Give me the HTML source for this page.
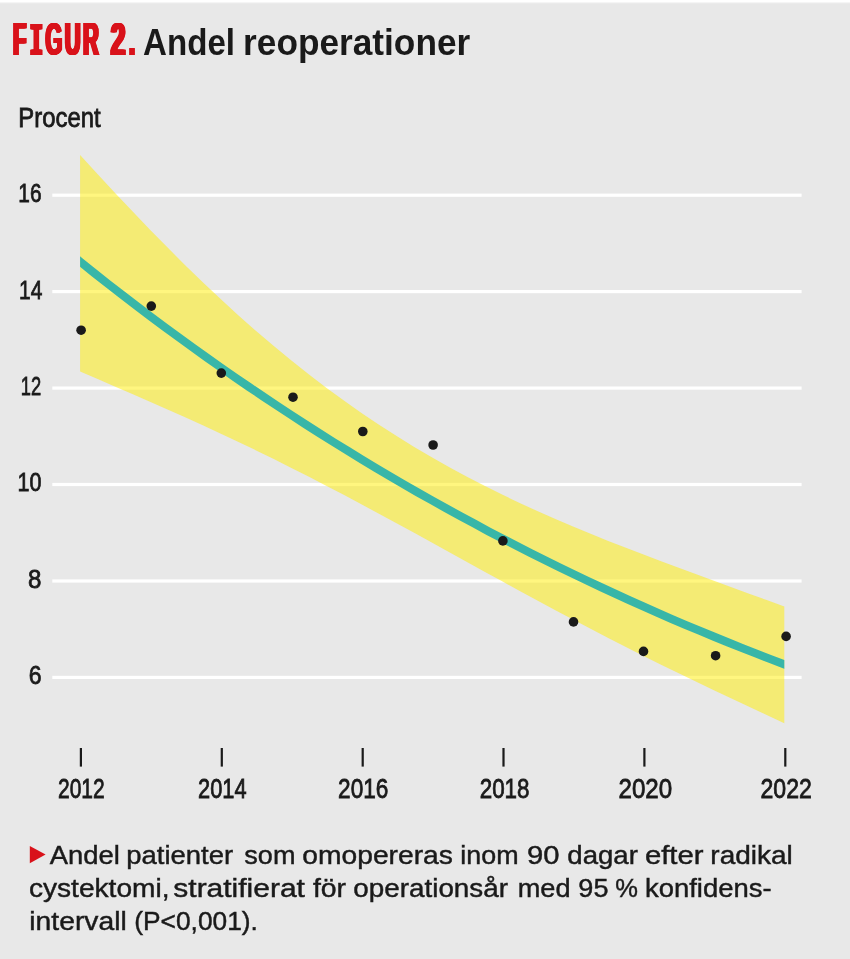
<!DOCTYPE html>
<html lang="sv"><head><meta charset="utf-8"><title>Figur 2. Andel reoperationer</title>
<style>
html,body{margin:0;padding:0;background:#e8e8e8;}
body{width:850px;height:959px;overflow:hidden;position:relative;}
svg{display:block;}
text{font-family:"Liberation Sans",sans-serif;fill:#1a1a1a;stroke:#1a1a1a;stroke-width:0.45px;}
text.ttl{font-weight:bold;stroke:none;}
text.ax{stroke-width:0.8px;}
.fig{position:absolute;left:13.2px;top:15.9px;font-family:"Liberation Sans",sans-serif;font-weight:bold;font-size:46.5px;line-height:1;color:#d9121a;white-space:nowrap;transform-origin:0 0;transform:scaleX(0.47);text-shadow:1px 0 0 #d9121a,-1px 0 0 #d9121a,2px 0 0 #d9121a,-2px 0 0 #d9121a,2.6px 0 0 #d9121a,-2.6px 0 0 #d9121a;letter-spacing:7.4px;word-spacing:-2px;}
.fig .i{font-family:"Liberation Mono",monospace;letter-spacing:5.2px;}
.fig .t{letter-spacing:5.2px;}
.fig .w{letter-spacing:12.5px;}
.fig .n{display:inline-block;transform:scaleX(1.2);transform-origin:0 0;margin-left:-5.5px;margin-right:5.5px;}
</style></head><body>
<svg width="850" height="959" viewBox="0 0 850 959">
<defs><clipPath id="cp"><rect x="80.1" y="140" width="704.2" height="600"/></clipPath></defs>
<rect width="850" height="959" fill="#e8e8e8"/>
<rect width="850" height="2" fill="#fff"/><rect y="2" width="850" height="1" fill="#f5f5f5"/><rect y="3" width="850" height="1" fill="#ebebeb"/>
<text class="ttl" y="55" font-size="36"><tspan x="143.10" textLength="91.90" lengthAdjust="spacingAndGlyphs">Andel</tspan> <tspan x="243.10" textLength="227.14" lengthAdjust="spacingAndGlyphs">reoperationer</tspan></text>
<text class="ax" y="127.1" font-size="27.5"><tspan x="18.30" textLength="82.32" lengthAdjust="spacingAndGlyphs">Procent</tspan></text>
<g><rect x="52.3" y="193.6" width="749.3" height="3.2" fill="#fff"/><rect x="52.3" y="290.0" width="749.3" height="3.2" fill="#fff"/><rect x="52.3" y="386.5" width="749.3" height="3.2" fill="#fff"/><rect x="52.3" y="482.9" width="749.3" height="3.2" fill="#fff"/><rect x="52.3" y="579.4" width="749.3" height="3.2" fill="#fff"/><rect x="52.3" y="675.8" width="749.3" height="3.2" fill="#fff"/></g>
<polygon points="80.1,155.0 97.7,174.2 115.3,193.2 132.9,211.8 150.5,230.2 168.1,248.1 185.7,265.7 203.3,282.7 220.9,299.3 238.5,315.4 256.1,331.0 273.8,346.0 291.4,360.5 309.0,374.5 326.6,387.9 344.2,400.8 361.8,413.2 379.4,425.0 397.0,436.3 414.6,447.2 432.2,457.6 449.8,467.5 467.4,477.0 485.0,486.1 502.6,494.8 520.2,503.2 537.8,511.3 555.4,519.0 573.0,526.6 590.6,533.8 608.2,540.9 625.9,547.8 643.5,554.6 661.1,561.2 678.7,567.8 696.3,574.3 713.9,580.8 731.5,587.2 749.1,593.7 766.7,600.1 784.3,606.6 784.3,723.2 766.7,715.0 749.1,706.8 731.5,698.5 713.9,690.2 696.3,681.8 678.7,673.3 661.1,664.7 643.5,655.9 625.9,647.0 608.2,638.0 590.6,628.8 573.0,619.6 555.4,610.2 537.8,600.7 520.2,591.2 502.6,581.6 485.0,571.9 467.4,562.2 449.8,552.5 432.2,542.8 414.6,533.1 397.0,523.5 379.4,514.0 361.8,504.5 344.2,495.1 326.6,485.9 309.0,476.8 291.4,467.9 273.8,459.1 256.1,450.4 238.5,442.0 220.9,433.7 203.3,425.5 185.7,417.5 168.1,409.7 150.5,401.9 132.9,394.3 115.3,386.7 97.7,379.1 80.1,371.5" fill="#ffee00" fill-opacity="0.5"/>
<polyline points="66.0,250.4 80.1,261.7 94.2,273.0 108.3,284.1 122.4,295.0 136.4,305.8 150.5,316.5 164.6,327.0 178.7,337.3 192.8,347.5 206.9,357.6 220.9,367.5 235.0,377.3 249.1,387.0 263.2,396.5 277.3,405.9 291.4,415.1 305.4,424.3 319.5,433.2 333.6,442.1 347.7,450.8 361.8,459.4 375.9,467.9 389.9,476.2 404.0,484.5 418.1,492.6 432.2,500.5 446.3,508.4 460.4,516.1 474.5,523.7 488.5,531.3 502.6,538.6 516.7,545.9 530.8,553.1 544.9,560.1 559.0,567.1 573.0,573.9 587.1,580.6 601.2,587.3 615.3,593.8 629.4,600.2 643.5,606.5 657.5,612.7 671.6,618.9 685.7,624.9 699.8,630.8 713.9,636.6 728.0,642.4 742.0,648.0 756.1,653.5 770.2,659.0 784.3,664.4 798.4,669.7" fill="none" stroke="#38b6a8" stroke-width="8.2" clip-path="url(#cp)"/>
<g fill="#1a1a1a"><circle cx="81.1" cy="330.2" r="4.8"/><circle cx="151.3" cy="306.1" r="4.8"/><circle cx="221.3" cy="373.1" r="4.8"/><circle cx="293.0" cy="397.2" r="4.8"/><circle cx="362.8" cy="431.5" r="4.8"/><circle cx="433.1" cy="445.0" r="4.8"/><circle cx="502.9" cy="540.9" r="4.8"/><circle cx="573.5" cy="621.9" r="4.8"/><circle cx="643.5" cy="651.4" r="4.8"/><circle cx="715.6" cy="655.7" r="4.8"/><circle cx="786.1" cy="636.4" r="4.8"/></g>
<text class="ax" y="202.1" font-size="26.5"><tspan x="18.30" textLength="23.18" lengthAdjust="spacingAndGlyphs">16</tspan></text><text class="ax" y="298.5" font-size="26.5"><tspan x="19.00" textLength="23.28" lengthAdjust="spacingAndGlyphs">14</tspan></text><text class="ax" y="395.0" font-size="26.5"><tspan x="20.70" textLength="20.38" lengthAdjust="spacingAndGlyphs">12</tspan></text><text class="ax" y="491.4" font-size="26.5"><tspan x="17.50" textLength="23.98" lengthAdjust="spacingAndGlyphs">10</tspan></text><text class="ax" y="587.9" font-size="26.5"><tspan x="28.10" textLength="13.39" lengthAdjust="spacingAndGlyphs">8</tspan></text><text class="ax" y="684.3" font-size="26.5"><tspan x="28.70" textLength="12.79" lengthAdjust="spacingAndGlyphs">6</tspan></text>
<rect x="79.8" y="748" width="2.2" height="18.6" fill="#1a1a1a"/><rect x="220.7" y="748" width="2.2" height="18.6" fill="#1a1a1a"/><rect x="361.6" y="748" width="2.2" height="18.6" fill="#1a1a1a"/><rect x="502.4" y="748" width="2.2" height="18.6" fill="#1a1a1a"/><rect x="643.3" y="748" width="2.2" height="18.6" fill="#1a1a1a"/><rect x="784.2" y="748" width="2.2" height="18.6" fill="#1a1a1a"/>
<text class="ax" y="798.3" font-size="27.5"><tspan x="58.00" textLength="46.74" lengthAdjust="spacingAndGlyphs">2012</tspan></text><text class="ax" y="798.3" font-size="27.5"><tspan x="198.10" textLength="48.54" lengthAdjust="spacingAndGlyphs">2014</tspan></text><text class="ax" y="798.3" font-size="27.5"><tspan x="338.10" textLength="50.24" lengthAdjust="spacingAndGlyphs">2016</tspan></text><text class="ax" y="798.3" font-size="27.5"><tspan x="479.70" textLength="49.84" lengthAdjust="spacingAndGlyphs">2018</tspan></text><text class="ax" y="798.3" font-size="27.5"><tspan x="618.50" textLength="53.65" lengthAdjust="spacingAndGlyphs">2020</tspan></text><text class="ax" y="798.3" font-size="27.5"><tspan x="760.50" textLength="51.35" lengthAdjust="spacingAndGlyphs">2022</tspan></text>
<polygon points="29.8,846 29.8,863.2 45.6,854.5" fill="#d9121a"/>
<text y="863.5" font-size="26.4"><tspan x="49.73" textLength="70.10" lengthAdjust="spacingAndGlyphs">Andel</tspan> <tspan x="126.32" textLength="106.76" lengthAdjust="spacingAndGlyphs">patienter</tspan> <tspan x="244.32" textLength="51.10" lengthAdjust="spacingAndGlyphs">som</tspan> <tspan x="302.33" textLength="150.53" lengthAdjust="spacingAndGlyphs">omopereras</tspan> <tspan x="460.33" textLength="58.19" lengthAdjust="spacingAndGlyphs">inom</tspan> <tspan x="526.93" textLength="32.51" lengthAdjust="spacingAndGlyphs">90</tspan> <tspan x="567.33" textLength="70.50" lengthAdjust="spacingAndGlyphs">dagar</tspan> <tspan x="644.93" textLength="58.58" lengthAdjust="spacingAndGlyphs">efter</tspan> <tspan x="710.33" textLength="82.49" lengthAdjust="spacingAndGlyphs">radikal</tspan></text>
<text y="896.6" font-size="26.4"><tspan x="28.93" textLength="140.58" lengthAdjust="spacingAndGlyphs">cystektomi,</tspan> <tspan x="173.32" textLength="131.59" lengthAdjust="spacingAndGlyphs">stratifierat</tspan> <tspan x="312.93" textLength="33.18" lengthAdjust="spacingAndGlyphs">för</tspan> <tspan x="353.33" textLength="154.64" lengthAdjust="spacingAndGlyphs">operationsår</tspan> <tspan x="517.73" textLength="52.81" lengthAdjust="spacingAndGlyphs">med</tspan> <tspan x="578.33" textLength="30.11" lengthAdjust="spacingAndGlyphs">95</tspan> <tspan x="615.33" textLength="22.70" lengthAdjust="spacingAndGlyphs">%</tspan> <tspan x="644.93" textLength="126.61" lengthAdjust="spacingAndGlyphs">konfidens-</tspan></text>
<text y="930.2" font-size="26.4"><tspan x="29.33" textLength="97.36" lengthAdjust="spacingAndGlyphs">intervall</tspan> <tspan x="134.32" textLength="123.56" lengthAdjust="spacingAndGlyphs">(P&lt;0,001).</tspan></text>
</svg>
<div class="fig">F<span class="i">I</span><span class="t">GU</span>R<span class="w"> </span><span class="n">2</span>.</div>
</body></html>
